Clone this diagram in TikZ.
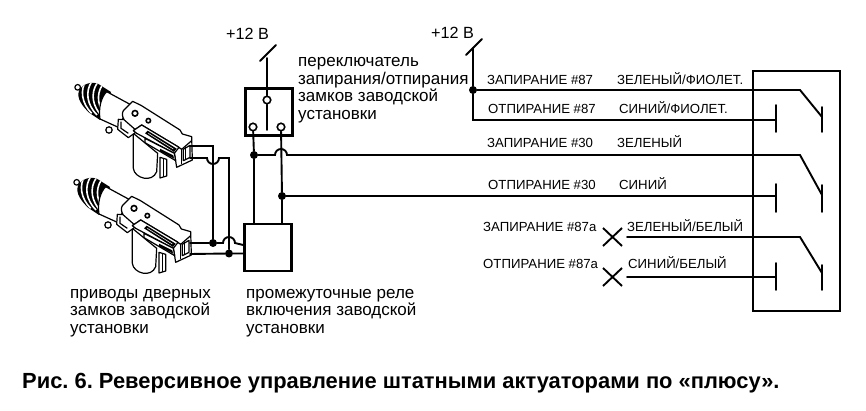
\documentclass[tikz,border=0pt]{standalone}
\usepackage{fontspec}
\setmainfont{Liberation Sans}
\newcommand{\actuatorshape}{%
  % foot ring and knob
  \draw[act,fill=white] (132,180) circle[radius=3.2pt];
  \draw[act,fill=white] (38,52) circle[radius=2.8pt];
  % motor can
  \draw[act,fill=white] (205,190) -- (205,295) .. controls (208,325) and (262,340) .. (275,305) -- (278,250) -- cycle;
  \draw[act,fill=white] (285,262) -- (305,268) -- (305,318) -- (285,324) -- cycle;
  \draw[act] (295,265) -- (295,322);
  % bellows
  \begin{scope}
  \clip (42,62) .. controls (50,44) and (78,32) .. (100,42) -- (138,66) -- (105,150) -- (72,128) .. controls (52,108) and (34,85) .. (42,62) -- cycle;
  \fill[black] (30,25) rectangle (145,155);
  \foreach \dx/\dy in {0/0,16/5,32/10,48/15}{
    \draw[white,line width=1.6pt,shift={(\dx,\dy)}] (64,30) .. controls (44,60) and (50,100) .. (80,130);
  }
  \end{scope}
  % cylinder
  \draw[act,fill=white] (125,65) -- (195,103) -- (160,172) -- (105,147) .. controls (100,115) and (108,82) .. (125,65) -- cycle;
  % lower collar
  \draw[act,fill=white] (160,148) -- (158,178) -- (190,203) -- (215,185) -- (200,150) -- cycle;
  \draw[act] (168,155) -- (168,175) -- (190,190);
  % top plate
  \draw[act,fill=white] (175,122) -- (203,94) -- (228,106) -- (345,180) -- (352,192) -- (380,200) -- (382,270) -- (335,292) -- (328,248) -- (210,178) -- (178,150) .. controls (172,142) and (170,130) .. (175,122) -- cycle;
  \draw[act] (380,212) -- (350,238) -- (335,228) -- (230,165) -- (205,182);
  \draw[act] (350,238) -- (350,282);
  % rail with hatching
  \draw[act,fill=white] (205,182) -- (230,165) -- (342,232) -- (328,250) -- (215,190) -- cycle;
  \fill[black] (240,190) -- (248,182) -- (335,236) -- (327,246) -- cycle;
  \draw[white,line width=.5pt] (250,190) -- (325,237);
  \draw[act,fill=white] (240,205) -- (328,250) -- (332,272) -- (240,218) -- cycle;
  \fill[black] (285,236) -- (325,256) -- (327,266) -- (285,244) -- cycle;
  % connector
  \draw[act,fill=white] (355,238) -- (375,226) -- (375,262) -- (355,272) -- cycle;
  \draw[act] (362,232) -- (362,268);
  % holes
  \draw[line width=1.6pt,fill=white] (210,130) circle[radius=2.8pt];
  \draw[line width=1.6pt,fill=white] (250,152) circle[radius=2.2pt];
}
\tikzset{
  x=1pt,y=-1pt,
  wire/.style={line width=1.9pt,line cap=round,line join=miter},
  boxthick/.style={draw,line width=2.6pt,minimum width=47pt,minimum height=47pt,inner sep=0pt},
  outerbox/.style={draw,line width=1.9pt,minimum width=87pt,minimum height=240pt,inner sep=0pt},
  dotnode/.style={circle,fill=black,inner sep=0pt,minimum size=8pt},
  term/.style={circle,draw,fill=white,line width=1.6pt,inner sep=0pt,minimum size=7.5pt},
  act/.style={line width=1.2pt,line join=round},
  lab/.style={anchor=base west,inner sep=0pt,font=\fontsize{16.2}{17.5}\selectfont},
  mlab/.style={anchor=north west,inner sep=0pt,align=left,font=\fontsize{17}{17.5}\selectfont},
  small/.style={anchor=base west,inner sep=0pt,font=\fontsize{13.2}{14}\selectfont},
  cross/.style={line width=1.9pt},
}
\begin{document}
\frenchspacing
\begin{tikzpicture}
\useasboundingbox[fill=white] (0,0) rectangle (866,411);
% boxes
\node[boxthick] (sw) at (269,112) {};
\node[boxthick] (rel) at (268,247.5) {};
\node[outerbox] (bk) at (796.5,191) {};
% switch terminals
\node[term] (tp) at (267,100) {};
\node[term] (tl) at (253,127) {};
\node[term] (tr) at (281,127) {};
\coordinate (bladeend) at (267,130);
\coordinate (p1) at (267,58);
\coordinate (t1a) at (260,61);
\coordinate (t1b) at (276,45);
\draw[wire] (p1) -- (tp);
\draw[wire] (t1a) -- (t1b);
\draw[wire] (tp) -- (bladeend);
% verticals from switch to relay
\node[dotnode] (j1) at (254,155) {};
\node[dotnode] (j2) at (282,196) {};
\draw[wire] (tl) -- (j1);
\draw[wire] (j1) -- (j1 |- rel.north);
\draw[wire] (tr) -- (j2);
\draw[wire] (j2) -- (j2 |- rel.north);
% contact block 1
\coordinate (a1) at (800,90);
\coordinate (a2) at (822,117);
\coordinate (a3) at (822,107);
\coordinate (a4) at (822,132);
\coordinate (b1) at (776,120);
\coordinate (b2) at (776,105);
\coordinate (b3) at (776,132);
% contact block 2
\coordinate (c1) at (800,155);
\coordinate (c2) at (822,195);
\coordinate (c3) at (822,185);
\coordinate (c4) at (822,212);
\coordinate (d1) at (776,196);
\coordinate (d2) at (776,184);
\coordinate (d3) at (776,212);
% contact block 3
\coordinate (e1) at (800,237);
\coordinate (e2) at (822,273);
\coordinate (e3) at (822,265);
\coordinate (e4) at (822,290);
\coordinate (f1) at (776,277);
\coordinate (f2) at (776,263);
\coordinate (f3) at (776,290);
% +12 right
\coordinate (p2) at (473,48);
\coordinate (t2a) at (466,55);
\coordinate (t2b) at (482,39);
\node[dotnode] (j3) at (473,90) {};
\draw[wire] (t2a) -- (t2b);
\draw[wire] (p2) -- (j3);
\draw[wire] (j3) -- (a1) -- (a2);
\draw[wire] (a3) -- (a4);
\draw[wire] (j3) -- (j3 |- b1) -- (b1);
\draw[wire] (b2) -- (b3);
% wire 3 with hump over x=281
\draw[wire] (j1) -- (275,155) arc[start angle=180,end angle=0,radius=6pt] -- (c1) -- (c2);
\draw[wire] (c3) -- (c4);
\draw[wire] (j2) -- (d1);
\draw[wire] (d2) -- (d3);
% wire 5,6 with crosses
\coordinate (e0) at (627,237);
\coordinate (f0) at (627,277);
\draw[wire] (e0) -- (e1) -- (e2);
\draw[wire] (e3) -- (e4);
\draw[wire] (f0) -- (f1);
\draw[wire] (f2) -- (f3);
\coordinate (x1a) at (603,228); \coordinate (x1b) at (622,246);
\coordinate (x1c) at (622,228); \coordinate (x1d) at (603,246);
\coordinate (x2a) at (603,268); \coordinate (x2b) at (622,286);
\coordinate (x2c) at (622,268); \coordinate (x2d) at (603,286);
\draw[cross] (x1a) -- (x1b); \draw[cross] (x1c) -- (x1d);
\draw[cross] (x2a) -- (x2b); \draw[cross] (x2c) -- (x2d);
% actuators
\begin{scope}[shift={(65,70)},x=1pt/3,y=-1pt/3]
\actuatorshape
\end{scope}
\begin{scope}[shift={(64,165)},x=1pt/3,y=-1pt/3]
\actuatorshape
\end{scope}
% actuator wires
\coordinate (u1) at (190,146);
\coordinate (u2) at (190,158);
\coordinate (v1) at (190,243);
\coordinate (v2) at (190,254);
\node[dotnode] (j4) at (213,243) {};
\node[dotnode] (j5) at (229,253.5) {};
\draw[wire] (u1) -- (u1 -| j4) -- (j4);
\draw[wire] (u2) -- (207,158) arc[start angle=180,end angle=360,radius=6pt] -- (229,158) -- (j5);
\draw[wire] (v1) -- (j4) -- (223,243) arc[start angle=180,end angle=0,radius=6pt] -- (rel.west |- 0,245);
\draw[wire] (v2) -- (j5) -- (rel.west |- j5);
% texts
\node[lab] (n1) at (226,40) {+12 В};
\node[lab] (n2) at (431,39) {+12 В};
\node[mlab] (n3) at (298,57.5) {переключатель\\запирания/отпирания\\замков заводской\\установки};
\node[mlab] (n4) at (70,289) {приводы дверных\\замков заводской\\установки};
\node[mlab] (n5) at (246,289) {промежуточные реле\\включения заводской\\установки};
\node[small] (l1) at (487,85) {ЗАПИРАНИЕ \#87};
\node[small] (l2) at (617,85) {ЗЕЛЕНЫЙ/ФИОЛЕТ.};
\node[small] (l3) at (488,114) {ОТПИРАНИЕ \#87};
\node[small] (l4) at (619,114) {СИНИЙ/ФИОЛЕТ.};
\node[small] (l5) at (487,148) {ЗАПИРАНИЕ \#30};
\node[small] (l6) at (617,148) {ЗЕЛЕНЫЙ};
\node[small] (l7) at (488,190) {ОТПИРАНИЕ \#30};
\node[small] (l8) at (619,190) {СИНИЙ};
\node[small] (l9) at (483,232) {ЗАПИРАНИЕ \#87а};
\node[small] (l10) at (627,232) {ЗЕЛЕНЫЙ/БЕЛЫЙ};
\node[small] (l11) at (483,269) {ОТПИРАНИЕ \#87а};
\node[small] (l12) at (628,269) {СИНИЙ/БЕЛЫЙ};
\node[anchor=base west,inner sep=0pt,font=\fontsize{21.9}{24}\selectfont\bfseries] (cap) at (22,388) {Рис. 6. Реверсивное управление штатными актуаторами по «плюсу».};
\end{tikzpicture}
\end{document}
